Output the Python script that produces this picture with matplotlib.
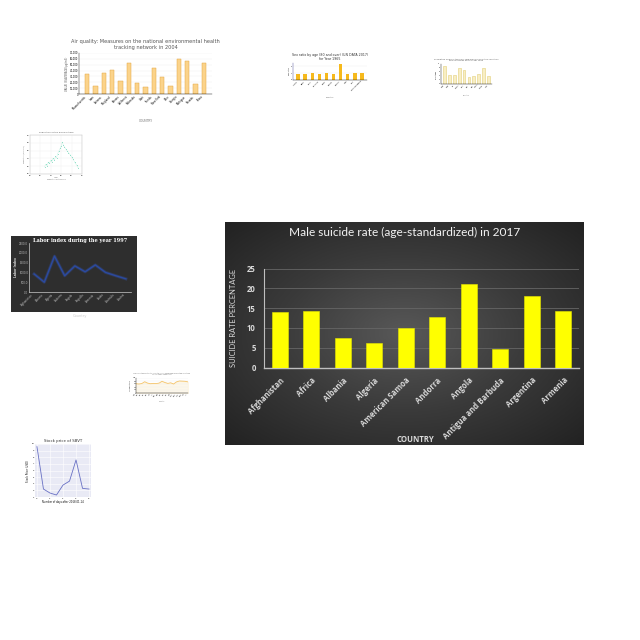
'''
Collage of chart thumbnails with one large
"Male suicide rate" bar chart on a dark panel
'''
import numpy as np
import matplotlib
matplotlib.use('Agg')
import matplotlib.pyplot as plt

W = H = 640.0

# main chart
countries = ['Afghanistan', 'Africa', 'Albania', 'Algeria', 'American Samoa',
             'Andorra', 'Angola', 'Antigua and Barbuda', 'Argentina', 'Armenia']
suicide_rate = [14.0, 14.2, 7.5, 6.1, 10.0, 12.7, 21.0, 4.6, 18.1, 14.2]

# thumbnails
air_states = ['Massachusetts', 'Iowa', 'Arizona', 'Maryland', 'Kansas', 'California',
              'Nebraska', 'Utah', 'Florida', 'New York', 'Ohio', 'Georgia',
              'Michigan', 'Nevada', 'Texas']
air_values = [35000, 14000, 36000, 41000, 22000, 53000, 19000, 12000,
              44000, 29000, 13000, 59000, 57000, 17000, 53000]

sex_countries = ['Austria', 'Brazil', 'Chile', 'Denmark', 'Egypt', 'France',
                 'Greece', 'India', 'Italy', 'United Kingdom']
sex_ratio = [0.9, 0.9, 1.0, 0.9, 1.0, 0.9, 2.3, 0.9, 1.0, 1.0]

third_countries = ['Chad', 'Cuba', 'Fiji', 'Gabon', 'Haiti', 'Iran', 'Iraq',
                   'Japan', 'Kenya', 'Laos']
third_values = [9.0, 4.5, 4.4, 8.0, 7.0, 3.4, 3.9, 5.0, 8.0, 4.0]

scatter_x = [0.28, 0.30, 0.33, 0.35, 0.37, 0.40, 0.42, 0.44, 0.47, 0.49, 0.51,
             0.53, 0.56, 0.58, 0.60, 0.62, 0.64, 0.66, 0.69, 0.71, 0.74, 0.77,
             0.80, 0.83, 0.86, 0.90, 0.93]
scatter_y = [0.18, 0.25, 0.21, 0.30, 0.27, 0.35, 0.31, 0.40, 0.36, 0.45, 0.41,
             0.52, 0.60, 0.66, 0.72, 0.82, 0.74, 0.70, 0.64, 0.60, 0.55, 0.50,
             0.44, 0.38, 0.30, 0.22, 0.15]

labor_countries = ['Afghanistan', 'Albania', 'Algeria', 'Andorra', 'Angola', 'Anguilla',
                   'Armenia', 'Aruba', 'Australia', 'Austria']
labor_index = [920, 500, 1830, 830, 1330, 1030, 1380, 1000, 830, 670]

orange_labels = ['Jan', 'Feb', 'Mar', 'Apr', 'May', 'Jun', 'Jul', 'Aug', 'Sep', 'Oct',
                 'Nov', 'Dec', 'Jan ', 'Feb ', 'Mar ', 'Apr ', 'May ', 'Jun ', 'Jul ']
orange_values = [62, 60, 63, 75, 66, 62, 64, 63, 66, 78, 70, 64, 68, 60, 74, 80, 79, 78, 74]

stock_days = [0, 1, 2, 3, 4, 5, 6, 7, 8]
stock_price = [9.6, 3.2, 2.6, 2.3, 3.8, 4.4, 7.6, 3.3, 3.2]


def box(x0, y0, x1, y1):
    # pixel box (top-left origin) -> figure fraction
    return [x0 / W, 1 - y1 / H, (x1 - x0) / W, (y1 - y0) / H]


def tiny(ax, fs=1.6):
    ax.tick_params(labelsize=fs, length=0, pad=0.5)
    for s in ax.spines.values():
        s.set_linewidth(0.3)


fig = plt.figure(figsize=(6.4, 6.4), dpi=100)
fig.patch.set_facecolor('white')

# ---- air quality bars
ax = fig.add_axes(box(79, 53, 212, 94))
ax.bar(range(len(air_values)), air_values, width=0.5, color='#fbd38a',
       edgecolor='#e3a845', linewidth=0.35, zorder=2)
ax.set_ylim(0, 70000)
ax.set_yticks(range(0, 70001, 10000))
ax.set_yticklabels(['{:,}'.format(v) for v in range(0, 70001, 10000)])
ax.set_xticks(range(len(air_states)))
ax.set_xticklabels(air_states, rotation=45, ha='right')
ax.grid(axis='y', color='#eeeeee', linewidth=0.3, zorder=0)
tiny(ax, 1.8)
for s in ['top', 'right']:
    ax.spines[s].set_visible(False)
ax.set_title('Air quality: Measures on the national environmental health\ntracking network in 2004',
             fontsize=3.6, color='#555555', pad=3)
ax.set_ylabel('VALUE IN AVERAGE(µg/m3)', fontsize=1.8, color='#555555', labelpad=1)
ax.set_xlabel('COUNTRY', fontsize=2.2, color='#777777', labelpad=6)

# ---- sex ratio bars
ax = fig.add_axes(box(293, 63, 367, 80))
ax.bar(range(len(sex_ratio)), sex_ratio, width=0.45, color='#f6b91c', zorder=2)
ax.set_ylim(0, 2.5)
ax.set_xticks(range(len(sex_countries)))
ax.set_xticklabels(sex_countries, rotation=45, ha='right')
ax.grid(axis='y', color='#eeeeee', linewidth=0.3, zorder=0)
tiny(ax, 1.3)
for s in ['top', 'right']:
    ax.spines[s].set_visible(False)
ax.spines['left'].set_color('#3b3b8f')
ax.set_title('Sex ratio by age (80 and over) (UN DATA 2017)\nfor Year 1965',
             fontsize=2.3, color='#333333', pad=2)
ax.set_ylabel('Sex ratio', fontsize=1.3, labelpad=1)
ax.set_xlabel('Country', fontsize=1.5, color='#666666', labelpad=4)

# ---- third bar chart
ax = fig.add_axes(box(441, 64, 492, 84))
ax.bar(range(len(third_values)), third_values, width=0.55, color='#f8eec4',
       edgecolor='#e2cf7a', linewidth=0.4, zorder=2)
ax.set_ylim(0, 10)
ax.set_xticks(range(len(third_countries)))
ax.set_xticklabels(third_countries, rotation=45, ha='right')
tiny(ax, 1.2)
for s in ['top', 'right']:
    ax.spines[s].set_visible(False)
ax.set_title('Population share of the older age group in selected countries\nand territories for the year 1990',
             fontsize=1.5, color='#555555', pad=2)
ax.set_ylabel('Percentage', fontsize=1.2, labelpad=1)
ax.set_xlabel('Country', fontsize=1.3, color='#777777', labelpad=4)

# ---- scatter
ax = fig.add_axes(box(30, 135, 82, 174))
ax.plot(scatter_x, scatter_y, color='#c4efe2', linewidth=0.3)
ax.scatter(scatter_x, scatter_y, s=0.3, color='#6fd8b8', zorder=3, linewidths=0)
ax.set_xlim(0, 1)
ax.set_ylim(0, 1)
ax.grid(color='#eeeeee', linewidth=0.3)
tiny(ax, 1.2)
for s in ax.spines.values():
    s.set_color('#bbbbbb')
ax.set_title('Population of the world in time', fontsize=1.6, color='#555555', pad=1.5)
ax.set_xlabel('Year\nPopulation of the world', fontsize=1.2, color='#666666', labelpad=1)
ax.set_ylabel('Population (in billions)', fontsize=1.2, color='#666666', labelpad=1)

# ---- labor index (dark)
bg = fig.add_axes(box(11, 236, 137, 312))
bg.set_facecolor('#2e2e2e')
bg.set_xticks([])
bg.set_yticks([])
for s in bg.spines.values():
    s.set_visible(False)
ax = fig.add_axes(box(29, 243, 131, 292))
ax.set_facecolor('none')
ax.plot(range(len(labor_index)), labor_index, color='#3552a8', linewidth=2.2, alpha=0.35)
ax.plot(range(len(labor_index)), labor_index, color='#2b4aa0', linewidth=1.0)
ax.set_ylim(0, 2500)
ax.set_xlim(-0.5, 9.5)
ax.set_yticks(range(0, 2501, 500))
ax.set_yticklabels(['{:.1f}'.format(v) for v in range(0, 2501, 500)])
ax.set_xticks(range(len(labor_countries)))
ax.set_xticklabels(labor_countries, rotation=45, ha='right')
tiny(ax, 1.9)
ax.tick_params(colors='#bbbbbb')
for s in ['top', 'right']:
    ax.spines[s].set_visible(False)
for s in ['left', 'bottom']:
    ax.spines[s].set_color('#cccccc')
    ax.spines[s].set_linewidth(0.5)
ax.set_title('Labor index during the year 1997', fontsize=3.6, color='white',
             fontweight='bold', family='DejaVu Serif', pad=1)
ax.set_ylabel('Labor Index', fontsize=2.2, color='#dddddd', fontweight='bold', labelpad=1)
ax.set_xlabel('Country', fontsize=2.6, color='#cccccc', labelpad=5)

# ---- orange line
ax = fig.add_axes(box(136, 378, 188, 393))
xi = range(len(orange_values))
ax.plot(xi, orange_values, color='#f5c46a', linewidth=0.6)
ax.fill_between(xi, orange_values, 0, color='#fdf3dc', alpha=0.6)
ax.set_ylim(0, 100)
ax.set_xlim(0, len(orange_values) - 1)
ax.set_xticks(list(xi))
ax.set_xticklabels(orange_labels, rotation=45, ha='right')
ax.grid(axis='y', color='#eeeeee', linewidth=0.3)
tiny(ax, 1.0)
for s in ['top', 'right']:
    ax.spines[s].set_visible(False)
ax.set_title('Life expectancy at birth for both sexes combined in selected countries\nfor the years 1950-2015',
             fontsize=1.2, color='#666666', pad=2)
ax.set_ylabel('Life expectancy', fontsize=1.0, labelpad=1)
ax.set_xlabel('Country', fontsize=1.2, color='#777777', labelpad=3)

# ---- stock price
ax = fig.add_axes(box(35, 444, 91, 497))
ax.set_facecolor('#e9eaf5')
ax.plot(stock_days, stock_price, color='#6870c4', linewidth=0.6)
ax.set_ylim(2, 10)
ax.set_xlim(-0.3, 8.3)
ax.grid(color='white', linewidth=0.4)
tiny(ax, 1.5)
for s in ax.spines.values():
    s.set_visible(False)
ax.set_title('Stock price of SBVT', fontsize=2.8, color='#333333', pad=1.5)
ax.set_xlabel('Number of days after 2018-01-14', fontsize=1.8, labelpad=1)
ax.set_ylabel('Stock Price (USD)', fontsize=1.8, labelpad=1)

# ---- main chart: dark gradient panel
bg = fig.add_axes(box(225, 222, 584, 445))
gy, gx = np.mgrid[-1:1:200j, -1:1:320j]
r = np.sqrt(gx ** 2 + gy ** 2) / np.sqrt(2)
bg.imshow(r, cmap=matplotlib.colors.LinearSegmentedColormap.from_list(
    'panel', ['#585858', '#3a3a3a', '#222222']), aspect='auto',
    extent=[0, 1, 0, 1], vmin=0, vmax=1)
bg.set_xticks([])
bg.set_yticks([])
for s in bg.spines.values():
    s.set_visible(False)

ax = fig.add_axes(box(264, 268.5, 579, 367.5))
ax.set_facecolor('none')
ax.bar(range(len(suicide_rate)), suicide_rate, width=0.5, color='#ffff00',
       edgecolor='#e6e600', linewidth=0.4, zorder=3)
ax.set_xlim(-0.5, len(countries) - 0.5)
ax.set_ylim(0, 25)
ax.set_yticks(range(0, 26, 5))
ax.set_xticks(range(len(countries)))
ax.set_xticklabels(countries, rotation=45, ha='right', rotation_mode='anchor',
                   fontsize=5.6, fontweight='bold', color='#d9d9d9', family='Open Sans')
for lbl in ax.get_yticklabels():
    lbl.set_family('Open Sans')
    lbl.set_fontweight('bold')
ax.tick_params(axis='y', labelsize=5.6, colors='#d9d9d9', length=0, pad=6)
ax.tick_params(axis='x', length=0, pad=6)
ax.grid(axis='y', color='#666666', linewidth=0.6, zorder=0)
for s in ['top', 'right']:
    ax.spines[s].set_visible(False)
ax.spines['left'].set_color('#bfbfbf')
ax.spines['left'].set_linewidth(0.8)
ax.spines['bottom'].set_color('#bfbfbf')
ax.spines['bottom'].set_linewidth(1.0)

fig.text(405 / W, 1 - 232 / H, 'Male suicide rate (age-standardized) in 2017',
         ha='center', va='center', fontsize=8.6, color='#f2f2f2', family='Lato')
fig.text(233 / W, 1 - 318 / H, 'SUICIDE RATE PERCENTAGE', rotation=90,
         ha='center', va='center', fontsize=5.4, color='#d9d9d9', family='Lato')
fig.text(415 / W, 1 - 440 / H, 'COUNTRY', ha='center', va='center',
         fontsize=5.6, fontweight='bold', color='#d9d9d9', family='Open Sans')

fig.savefig('out.png', dpi=100, facecolor='white')
